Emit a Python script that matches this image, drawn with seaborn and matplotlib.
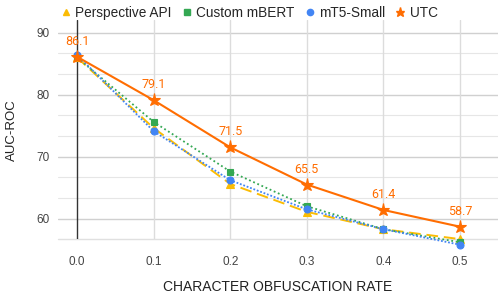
import matplotlib
matplotlib.use("Agg")
import matplotlib.pyplot as plt
from matplotlib.lines import Line2D
import seaborn as sns
import pandas as pd

rates = [0.0, 0.1, 0.2, 0.3, 0.4, 0.5]
perspective = [86.0, 74.6, 65.6, 61.1, 58.3, 56.7]
mbert = [86.0, 75.6, 67.6, 62.0, 58.3, 56.2]
mt5 = [86.4, 74.1, 66.2, 61.5, 58.3, 55.8]
utc = [86.1, 79.1, 71.5, 65.5, 61.4, 58.7]
series_names = ["Perspective API", "Custom mBERT", "mT5-Small", "UTC"]
y_ticks = [60, 70, 80, 90]
x_ticks = [0.0, 0.1, 0.2, 0.3, 0.4, 0.5]

colors = {"Perspective API": "#FBBC04", "Custom mBERT": "#34A853",
          "mT5-Small": "#4285F4", "UTC": "#FF6D01"}
markers = {"Perspective API": "^", "Custom mBERT": "s", "mT5-Small": "o", "UTC": "*"}
dashes = {"Perspective API": (6, 3), "Custom mBERT": (1, 1.5),
          "mT5-Small": (1, 1), "UTC": ""}
msizes = {"Perspective API": 5.5, "Custom mBERT": 5, "mT5-Small": 5, "UTC": 9.5}
lwidths = {"Perspective API": 1.4, "Custom mBERT": 1.3, "mT5-Small": 1.3, "UTC": 1.5}

rows = []
for name, vals in zip(series_names, [perspective, mbert, mt5, utc]):
    for r, v in zip(rates, vals):
        rows.append({"rate": r, "auc": v, "model": name})
df = pd.DataFrame(rows)

sns.set_theme(style="white")
plt.rcParams["font.family"] = ["Liberation Sans", "DejaVu Sans"]

fig = plt.figure(figsize=(4.98, 3.0), dpi=100)
ax = fig.add_axes([0.1165, 0.2023, 0.8835, 0.7305])

ax.set_xlim(-0.0248, 0.5496)
ax.set_ylim(56.67, 92.0)

# grid
for y in [60, 63.333, 66.667, 70, 73.333, 76.667, 80, 83.333, 86.667, 90]:
    major = abs(y - round(y / 10) * 10) < 0.01
    ax.axhline(y, color="#d0d0d0" if major else "#e6e6e6", lw=1.0 if major else 0.8, zorder=0)
ax.axhline(56.67, color="#e0e0e0", lw=1.0, zorder=0, clip_on=False)
for x in x_ticks[1:]:
    ax.axvline(x, color="#dcdcdc", lw=1.0, zorder=0)
ax.axvline(0.0, color="#333333", lw=1.0, zorder=1)

for i, name in enumerate(series_names):
    sub = df[df["model"] == name]
    sns.lineplot(data=sub, x="rate", y="auc", ax=ax, color=colors[name],
                 marker=markers[name], markersize=msizes[name],
                 markeredgecolor=colors[name], markeredgewidth=0.8, dashes=False,
                 lw=lwidths[name], zorder=2 + i, legend=False)
    line = ax.lines[-1]
    line.set_clip_on(False)
    if dashes[name]:
        line.set_dashes(dashes[name])

for r, v in zip(rates, utc):
    ax.annotate(f"{v:.1f}", (r, v), xytext=(0, 6.5), textcoords="offset points",
                ha="center", va="bottom", color=colors["UTC"], fontsize=9,
                family=["Roboto", "DejaVu Sans"])

for s in ax.spines.values():
    s.set_visible(False)

ax.set_xticks(x_ticks)
ax.set_xticklabels([f"{x:.1f}" for x in x_ticks], fontsize=8.5, color="#444444")
ax.set_yticks(y_ticks)
ax.set_yticklabels([str(y) for y in y_ticks], fontsize=8.5, color="#444444")
ax.tick_params(axis="x", length=0, pad=12)
ax.tick_params(axis="y", length=0, pad=6)
ax.set_xlabel("CHARACTER OBFUSCATION RATE", fontsize=10, color="#222222", labelpad=9)
ax.set_ylabel("AUC-ROC", fontsize=9.5, color="#222222", labelpad=13)

handles = [Line2D([], [], linestyle="none", marker=markers[n], color=colors[n],
                  markersize=4.5 if n != "UTC" else 6.5) for n in series_names]
fig.legend(handles, series_names, loc="upper center", bbox_to_anchor=(0.5, 1.022),
           ncol=4, frameon=False, fontsize=9.8, handletextpad=0.3,
           columnspacing=0.7, handlelength=0.8)

fig.savefig("out.png", dpi=100)
